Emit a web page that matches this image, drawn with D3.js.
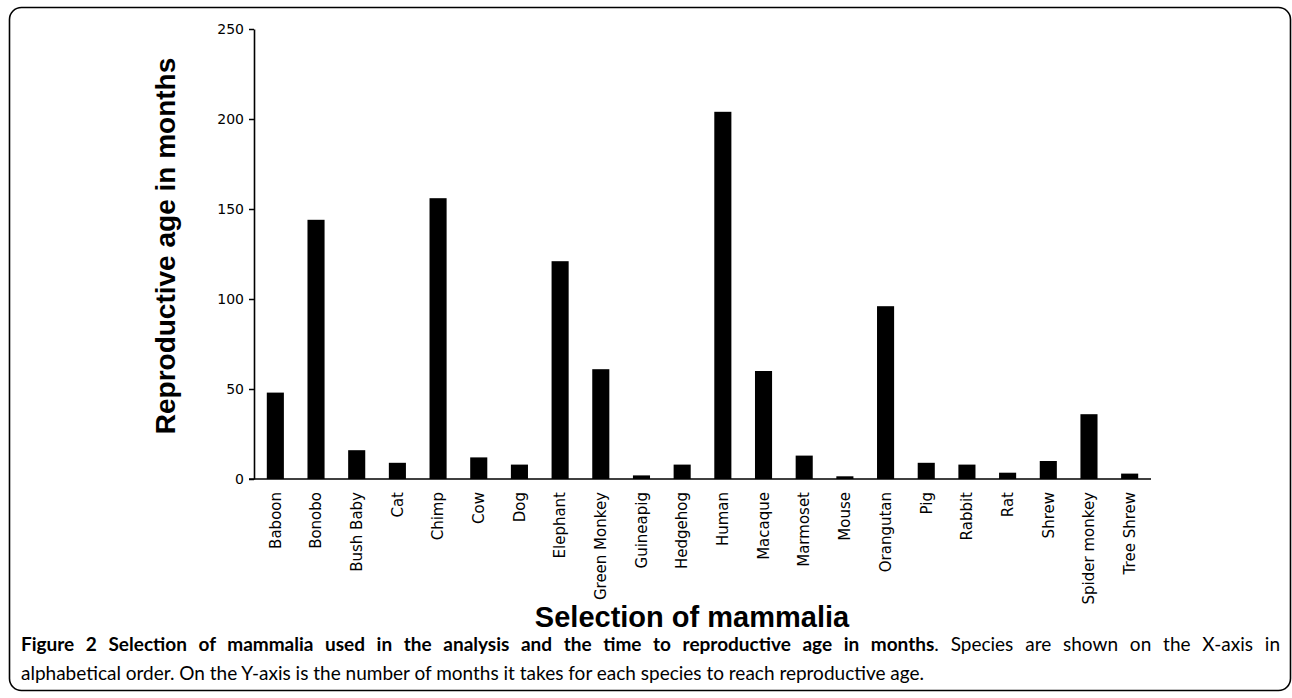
<!DOCTYPE html>
<html>
<head>
<meta charset="utf-8">
<script src="https://cdn.jsdelivr.net/npm/d3@7"></script>
<style>
  html, body { margin: 0; padding: 0; background: #fff; }
  svg { display: block; }
</style>
</head>
<body>
<div id="chart"></div>
<script>
// -------- Data --------
const species = ['Baboon', 'Bonobo', 'Bush Baby', 'Cat', 'Chimp', 'Cow', 'Dog', 'Elephant',
  'Green Monkey', 'Guineapig', 'Hedgehog', 'Human', 'Macaque', 'Marmoset', 'Mouse',
  'Orangutan', 'Pig', 'Rabbit', 'Rat', 'Shrew', 'Spider monkey', 'Tree Shrew'];
const ageMonths = [48, 144, 16, 9, 156, 12, 8, 121, 61, 2, 8, 204, 60, 13, 1.5, 96, 9, 8, 3.5, 10, 36, 3];
const yTicks = [0, 50, 100, 150, 200, 250];

const yTitle = 'Reproductive age in months';
const xTitle = 'Selection of mammalia';
const captionBold = 'Figure 2 Selection of mammalia used in the analysis and the time to reproductive age in months';
const captionRest1 = '. Species are shown on the X-axis in';
const captionLine2 = 'alphabetical order. On the Y-axis is the number of months it takes for each species to reach reproductive age.';

// -------- Dimensions --------
const svgWidth = 1292;
const svgHeight = 698;

const svg = d3.select('#chart')
  .append('svg')
    .attr('width', svgWidth)
    .attr('height', svgHeight);

// outer frame
svg.append('rect')
  .attr('x', 9.5).attr('y', 7.5)
  .attr('width', 1281).attr('height', 683)
  .attr('rx', 12).attr('ry', 12)
  .attr('fill', 'none')
  .attr('stroke', '#000')
  .attr('stroke-width', 1.6);

// -------- Scales --------
const y = d3.scaleLinear()
  .domain([0, 250])
  .range([479, 29]);

const x = d3.scaleBand()
  .domain(species)
  .range([255, 1150])
  .paddingInner(0.58)
  .paddingOuter(0.29);

// -------- Bars --------
svg.append('g')
  .selectAll('rect')
  .data(species)
  .join('rect')
    .attr('x', d => x(d))
    .attr('y', (d, i) => y(ageMonths[i]))
    .attr('width', x.bandwidth())
    .attr('height', (d, i) => y(0) - y(ageMonths[i]))
    .attr('fill', '#000');

// -------- Y Axis --------
const yAxis = svg.append('g')
  .attr('transform', 'translate(254,0)')
  .call(d3.axisLeft(y).tickValues(yTicks).tickSize(5).tickSizeOuter(0).tickPadding(5));

yAxis.select('.domain').attr('stroke-width', 1.6);
yAxis.selectAll('.tick line').attr('stroke-width', 1.5);
yAxis.selectAll('text')
  .attr('fill', '#000')
  .style('font-family', '"DejaVu Sans", Verdana, sans-serif')
  .style('font-size', '14px');

// -------- X Axis --------
const xAxis = svg.append('g')
  .attr('transform', 'translate(0,479)')
  .call(d3.axisBottom(x).tickSize(0).tickSizeOuter(0));

xAxis.select('.domain')
  .attr('d', 'M249,0H1151')
  .attr('stroke-width', 1.6);

xAxis.selectAll('text')
  .attr('transform', 'rotate(-90)')
  .attr('x', -13)
  .attr('y', 0)
  .attr('dy', '0.35em')
  .style('text-anchor', 'end')
  .attr('fill', '#000')
  .style('font-family', '"DejaVu Sans", Verdana, sans-serif')
  .style('font-size', '15px');

// -------- Axis titles --------
svg.append('text')
  .attr('transform', 'translate(175,246) rotate(-90)')
  .attr('text-anchor', 'middle')
  .style('font-family', '"Liberation Sans", Arial, sans-serif')
  .style('font-weight', 'bold')
  .style('font-size', '28px')
  .text(yTitle);

svg.append('text')
  .attr('x', 692)
  .attr('y', 627)
  .attr('text-anchor', 'middle')
  .style('font-family', '"Liberation Sans", Arial, sans-serif')
  .style('font-weight', 'bold')
  .style('font-size', '29px')
  .text(xTitle);

// -------- Caption --------
const capFont = 'Lato, "Open Sans", sans-serif';
const cap1 = svg.append('text')
  .attr('x', 21)
  .attr('y', 651)
  .style('font-family', capFont)
  .style('font-size', '19px')
  .attr('fill', '#000');
cap1.append('tspan').style('font-weight', 'bold').text(captionBold);
cap1.append('tspan').text(captionRest1);

// justify first line across the frame
const natural = cap1.node().getComputedTextLength();
const spaces = (captionBold + captionRest1).split(' ').length - 1;
cap1.attr('word-spacing', Math.max(0, (1259 - natural) / spaces));

svg.append('text')
  .attr('x', 21)
  .attr('y', 680)
  .style('font-family', capFont)
  .style('font-size', '19px')
  .attr('fill', '#000')
  .text(captionLine2);
</script>
</body>
</html>
